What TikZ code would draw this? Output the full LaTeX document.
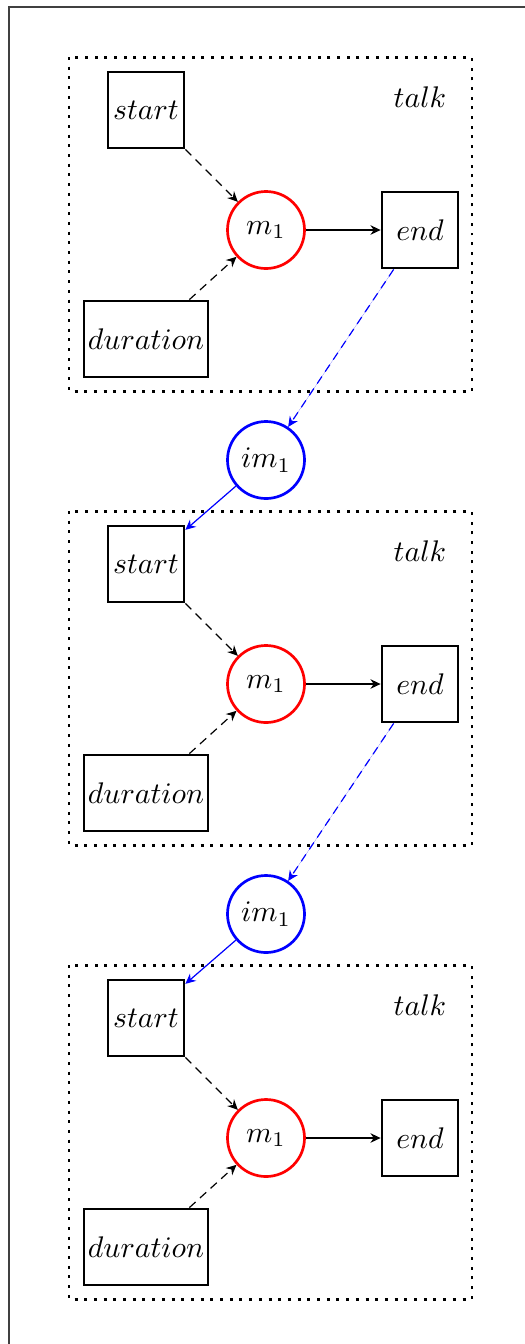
\documentclass[tikz,border=0pt]{standalone}
\usetikzlibrary{arrows.meta}
\begin{document}
\begin{tikzpicture}[x=0.335pt,y=-0.335pt,
  every node/.style={inner sep=1pt},
  boxnode/.style={draw,line width=0.9pt,minimum width=25.5pt,minimum height=25.5pt},
  widebox/.style={boxnode,minimum width=41.5pt},
  mcirc/.style={circle,draw=red,line width=0.9pt,minimum size=25.8pt},
  icirc/.style={circle,draw=blue,line width=0.9pt,minimum size=25.8pt},
  group/.style={draw,line width=1pt,dash pattern=on 1pt off 2.25pt},
  tip/.style={-{Stealth[length=3.4pt,width=3.2pt,inset=1.1pt]}},
  link/.style={tip,line width=0.4pt},
  dlink/.style={link,dash pattern=on 2.8pt off 2pt},
  frame/.style={draw=black!75,line width=0.4pt}]
\useasboundingbox (0,0) rectangle (525,1344);
% outer frame, left and top edges
\draw[frame] (9,1344) -- (9,7) -- (525,7);
% three identical talk groups, stacked
\foreach \g in {0,1,2}{
  \pgfmathsetmacro{\yo}{\g*454}
  \draw[group] (69,{57+\yo}) rectangle (472,{391+\yo});
  \node (talk\g) at (420,{97+\yo}) {$talk$};
  \node[boxnode] (start\g) at (146,{110+\yo}) {$start$};
  \node[mcirc] (m\g) at (266,{230+\yo}) {$m_1$};
  \node[boxnode] (end\g) at (420,{230+\yo}) {$end$};
  \node[widebox] (dur\g) at (146,{339+\yo}) {$duration$};
  \draw[dlink] (start\g) -- (m\g);
  \draw[dlink] (dur\g) -- (m\g);
  \draw[link] (m\g) -- (end\g);
}
% intermediate nodes linking consecutive groups
\foreach \g/\h in {0/1,1/2}{
  \pgfmathsetmacro{\yo}{\g*454}
  \node[icirc] (im\g) at (266,{460+\yo}) {$im_1$};
  \draw[dlink,draw=blue,fill=blue] (end\g) -- (im\g);
  \draw[link,draw=blue,fill=blue] (im\g) -- (start\h);
}
\end{tikzpicture}
\end{document}
